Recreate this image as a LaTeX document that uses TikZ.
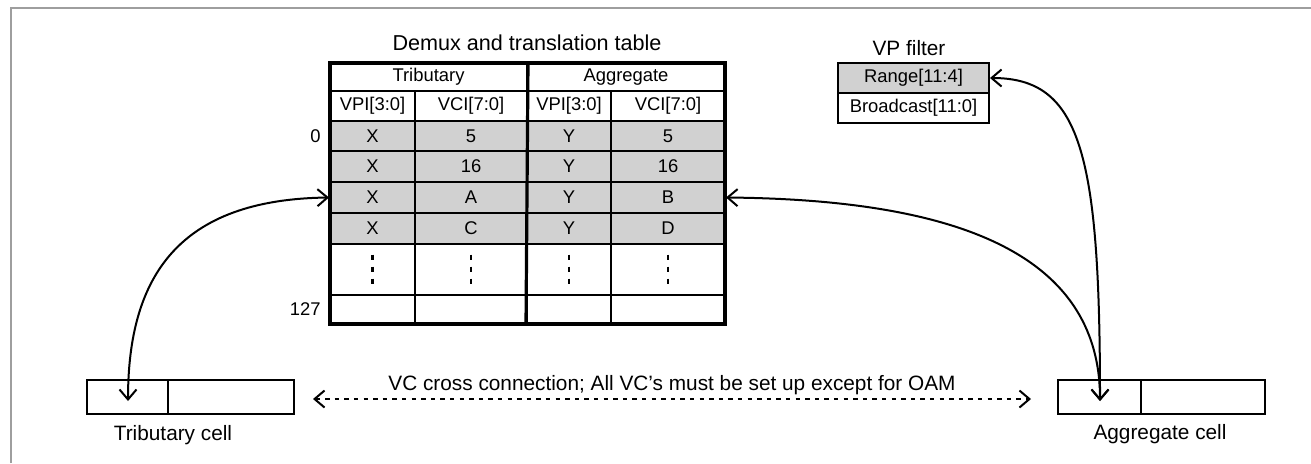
\documentclass[tikz,border=0pt]{standalone}
\usepackage{fontspec}
\setmainfont{Liberation Sans}
\usetikzlibrary{arrows.meta,fit,calc}
\begin{document}
\begin{tikzpicture}[x=0.5pt,y=-0.5pt,
  lbl/.style={font=\fontsize{10.4pt}{12pt}\selectfont, inner sep=0pt},
  small/.style={font=\fontsize{9.2pt}{11pt}\selectfont, inner sep=0pt},
  cellbox/.style={draw, line width=1pt, inner sep=0pt},
  thickbox/.style={draw, line width=1.6pt, inner sep=0pt},
  barb/.tip={Straight Barb[length=5pt,width=8.5pt,line width=1pt]},
  conn/.style={line width=1pt, barb-barb},
  dconn/.style={line width=0.8pt, dash pattern=on 2.2pt off 2.6pt, barb-barb},
  vdots/.style={line width=1.1pt, dash pattern=on 2.5pt off 3.5pt},
  frame/.style={draw=black!38, line width=1pt},
  every label/.style={small}
]
\useasboundingbox (0,0) rectangle (1311,463);
\draw[frame] (11,463) -- (11,8) -- (1311,8);

% title
\node[lbl, font=\fontsize{10.8pt}{12pt}\selectfont, anchor=base] (ttitle) at (527,50) {Demux and translation table};

% header rows
\node[cellbox, fit={(330,63)(527,91)}, label=center:Tributary] (htrib) {};
\node[cellbox, fit={(527,63)(725,91)}, label=center:Aggregate] (hagg) {};
\node[cellbox, fit={(330,91)(415,121)}, label={center:VPI[3:0]}] (h1) {};
\node[cellbox, fit={(415,91)(527,121)}, label={center:VCI[7:0]}] (h2) {};
\node[cellbox, fit={(527,91)(611,121)}, label={center:VPI[3:0]}] (h3) {};
\node[cellbox, fit={(611,91)(725,121)}, label={center:VCI[7:0]}] (h4) {};

% data rows
\foreach \n/\ya/\yb/\a/\b/\c/\d/\fc in {
  0/121/151/X/5/Y/5/black!18,
  1/151/182/X/16/Y/16/black!18,
  2/182/213/X/A/Y/B/black!18,
  3/213/244/X/C/Y/D/black!18,
  4/244/295/{}/{}/{}/{}/white,
  5/295/324/{}/{}/{}/{}/white}{
  \node[cellbox, fill=\fc, fit={(330,\ya)(415,\yb)}, label={center:\a}] (r\n c1) {};
  \node[cellbox, fill=\fc, fit={(415,\ya)(527,\yb)}, label={center:\b}] (r\n c2) {};
  \node[cellbox, fill=\fc, fit={(527,\ya)(611,\yb)}, label={center:\c}] (r\n c3) {};
  \node[cellbox, fill=\fc, fit={(611,\ya)(725,\yb)}, label={center:\d}] (r\n c4) {};
}

% vertical dots
\foreach \k in {1,2,3,4}{
  \draw[vdots] (r4c\k.center) ++(0,-15) -- ++(0,30);
}

% thick outline and middle line
\node[thickbox, fit={(330,63)(725,324)}] (tbl) {};
\draw[line width=1.6pt] (htrib.north east) -- (r5c3.south west);

% row numbers
\node[small, anchor=east] (n0) at (321,136) {0};
\node[small, anchor=east] (n127) at (321,309) {127};

% VP filter
\node[lbl, anchor=base] (vptitle) at (909,55) {VP filter};
\node[cellbox, fill=black!18, fit={(838,63)(989,93)}, label={center:Range[11:4]}] (range) {};
\node[cellbox, fit={(838,93)(989,123)}, label={center:Broadcast[11:0]}] (bcast) {};

% cells
\node[cellbox, fit={(87,380)(168,414)}] (tc1) {};
\node[cellbox, fit={(168,380)(294,414)}] (tc2) {};
\node[lbl, anchor=base] (tclbl) at (173,440) {Tributary cell};

\node[cellbox, fit={(1058,380)(1141,414)}] (ac1) {};
\node[cellbox, fit={(1141,380)(1265,414)}] (ac2) {};
\node[lbl, anchor=base] (aclbl) at (1160,439) {Aggregate cell};

% connectors
\coordinate (tin) at ($(tc1.center)+(0.5,4)$);
\coordinate (ain) at ($(ac1.center)+(0.5,4)$);
\draw[conn] (r2c1.west) .. controls +(-150,2) and +(0,-125) .. (tin);
\draw[conn] (r2c4.east) .. controls +(225,2) and +(0,-150) .. (ain);
\draw[conn] (range.east) .. controls +(90,0) and +(0,-250) .. (ain);

% dashed cross connection
\node[lbl, anchor=base] (vclbl) at (672,390) {VC cross connection; All VC's must be set up except for OAM};
\draw[dconn, shorten <=9pt, shorten >=13pt] ($(tc2.east)+(0,2)$) -- ($(ac1.west)+(0,2)$);
\end{tikzpicture}
\end{document}
